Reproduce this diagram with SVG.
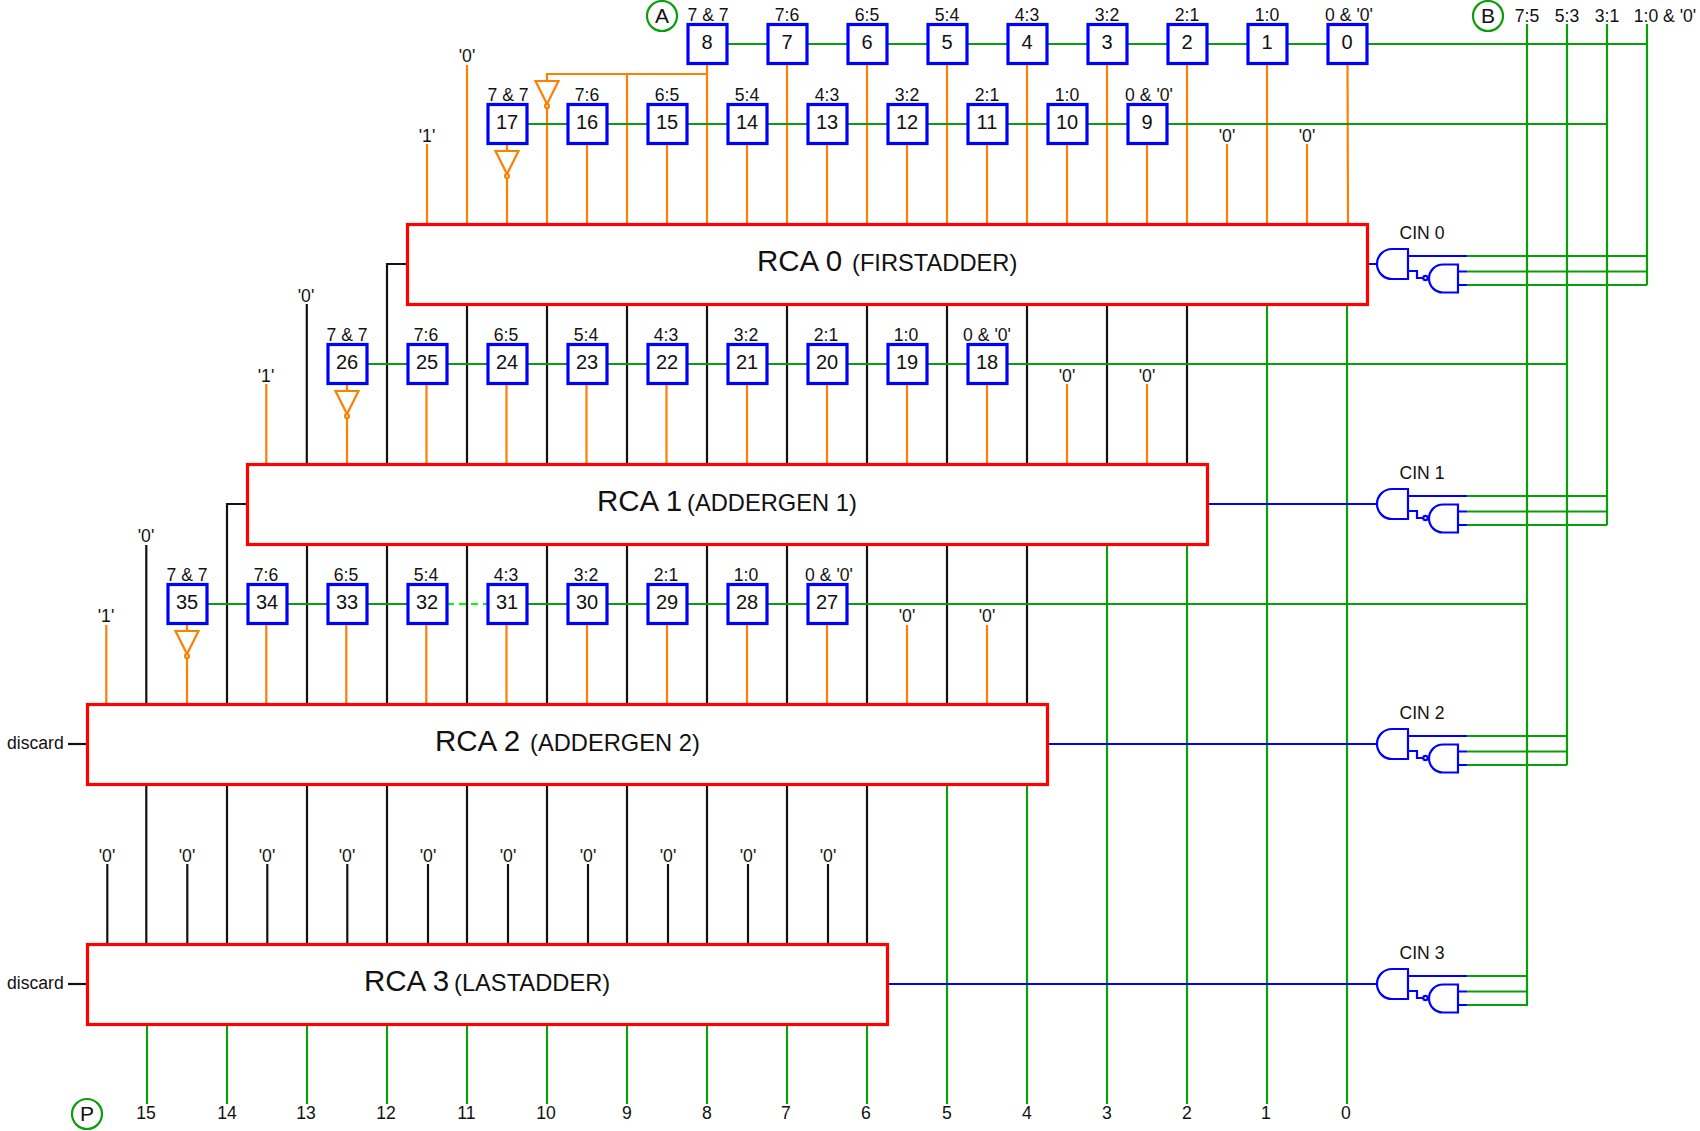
<svg xmlns="http://www.w3.org/2000/svg" xmlns:xlink="http://www.w3.org/1999/xlink" width="1700" height="1131" viewBox="0 0 1700 1131">
<style>
text{font-family:"Liberation Sans",Arial,sans-serif;fill:#111;text-anchor:middle;font-size:17.6px}
.n{font-size:20px}
.big{font-size:29.500px;text-anchor:start}
.sub{font-size:23.700px;text-anchor:start}
.l{text-anchor:start}
.c{font-size:21px}
line,path,circle,rect{fill:none;stroke-width:2.2}
.o{stroke:#ff8000}.k{stroke:#111}.g{stroke:#0a9e0a}.b{stroke:#0000ff}
.d{stroke:#00ff00;stroke-dasharray:7 5}
.box{fill:#fff;stroke:#0000ff;stroke-width:3.2}
.rca{fill:#fff;stroke:#ff0000;stroke-width:3.2}
.ring{stroke:#0a9e0a;fill:#fff}
.inv{stroke:#ff8000;fill:#fff}
</style>
<defs>
<g id="gate">
<path class="b" d="M1408 249H1392A15 15 0 0 0 1392 279H1408Z"/>
<path class="b" d="M1458 264.500H1443A14 14 0 0 0 1443 292.500H1458Z"/>
<path class="b" d="M1368 264H1377M1408 256H1467M1408 271H1417V278H1423M1458 271.500H1467M1458 285H1467"/>
<circle class="b" cx="1425.500" cy="278" r="2.200"/>
</g>
<g id="inverter">
<path class="inv" d="M-11.500 0H11.500L0 23Z"/>
<circle class="inv" cx="0" cy="25" r="2"/>
</g>
</defs>

<g id="connectors">
<g id="orange-wires" class="o">
<line class="o" x1="427" y1="144" x2="427" y2="224"/>
<line class="o" x1="467" y1="65" x2="467" y2="224"/>
<line class="o" x1="507" y1="145" x2="507" y2="224"/>
<path class="o" d="M547 224V74H707"/>
<line class="o" x1="587" y1="145" x2="587" y2="224"/>
<line class="o" x1="627" y1="74" x2="627" y2="224"/>
<line class="o" x1="667" y1="145" x2="667" y2="224"/>
<line class="o" x1="707" y1="64" x2="707" y2="224"/>
<line class="o" x1="747" y1="145" x2="747" y2="224"/>
<line class="o" x1="787" y1="64" x2="787" y2="224"/>
<line class="o" x1="827" y1="145" x2="827" y2="224"/>
<line class="o" x1="867" y1="64" x2="867" y2="224"/>
<line class="o" x1="907" y1="145" x2="907" y2="224"/>
<line class="o" x1="947" y1="64" x2="947" y2="224"/>
<line class="o" x1="987" y1="145" x2="987" y2="224"/>
<line class="o" x1="1027" y1="64" x2="1027" y2="224"/>
<line class="o" x1="1067" y1="145" x2="1067" y2="224"/>
<line class="o" x1="1107" y1="64" x2="1107" y2="224"/>
<line class="o" x1="1147" y1="145" x2="1147" y2="224"/>
<line class="o" x1="1187" y1="64" x2="1187" y2="224"/>
<line class="o" x1="1227" y1="144" x2="1227" y2="224"/>
<line class="o" x1="1267" y1="64" x2="1267" y2="224"/>
<line class="o" x1="1307" y1="144" x2="1307" y2="224"/>
<line class="o" x1="1347.500" y1="64" x2="1348" y2="224"/>

<line class="o" x1="266.300" y1="384" x2="266.300" y2="464"/>
<line class="o" x1="347" y1="385" x2="347" y2="464"/>
<line class="o" x1="426.500" y1="385" x2="426.500" y2="464"/>
<line class="o" x1="506.500" y1="385" x2="506.500" y2="464"/>
<line class="o" x1="586.500" y1="385" x2="586.500" y2="464"/>
<line class="o" x1="666.500" y1="385" x2="666.500" y2="464"/>
<line class="o" x1="747" y1="385" x2="747" y2="464"/>
<line class="o" x1="827" y1="385" x2="827" y2="464"/>
<line class="o" x1="907" y1="385" x2="907" y2="464"/>
<line class="o" x1="987" y1="385" x2="987" y2="464"/>
<line class="o" x1="1067" y1="384" x2="1067" y2="464"/>
<line class="o" x1="1147" y1="384" x2="1147" y2="464"/>

<line class="o" x1="106.300" y1="625" x2="106.300" y2="704"/>
<line class="o" x1="187" y1="625" x2="187" y2="704"/>
<line class="o" x1="266.300" y1="625" x2="266.300" y2="704"/>
<line class="o" x1="346.300" y1="625" x2="346.300" y2="704"/>
<line class="o" x1="426.300" y1="625" x2="426.300" y2="704"/>
<line class="o" x1="506.500" y1="625" x2="506.500" y2="704"/>
<line class="o" x1="587" y1="625" x2="587" y2="704"/>
<line class="o" x1="667" y1="625" x2="667" y2="704"/>
<line class="o" x1="747" y1="625" x2="747" y2="704"/>
<line class="o" x1="827" y1="625" x2="827" y2="704"/>
<line class="o" x1="907" y1="625" x2="907" y2="704"/>
<line class="o" x1="987" y1="625" x2="987" y2="704"/>
</g>

<g id="black-wires">
<path class="k" d="M407 264H387V464"/>
<line class="k" x1="467" y1="304" x2="467" y2="464"/>
<line class="k" x1="547" y1="304" x2="547" y2="464"/>
<line class="k" x1="627" y1="304" x2="627" y2="464"/>
<line class="k" x1="707" y1="304" x2="707" y2="464"/>
<line class="k" x1="787" y1="304" x2="787" y2="464"/>
<line class="k" x1="867" y1="304" x2="867" y2="464"/>
<line class="k" x1="947" y1="304" x2="947" y2="464"/>
<line class="k" x1="1027" y1="304" x2="1027" y2="464"/>
<line class="k" x1="1107" y1="304" x2="1107" y2="464"/>
<line class="k" x1="1187" y1="304" x2="1187" y2="464"/>
<line class="k" x1="306.800" y1="304" x2="306.800" y2="464"/>

<path class="k" d="M247 504H227V704"/>
<line class="k" x1="146.300" y1="545" x2="146.300" y2="704"/>
<line class="k" x1="307" y1="544" x2="307" y2="704"/>
<line class="k" x1="387" y1="544" x2="387" y2="704"/>
<line class="k" x1="467" y1="544" x2="467" y2="704"/>
<line class="k" x1="547" y1="544" x2="547" y2="704"/>
<line class="k" x1="627" y1="544" x2="627" y2="704"/>
<line class="k" x1="707" y1="544" x2="707" y2="704"/>
<line class="k" x1="787" y1="544" x2="787" y2="704"/>
<line class="k" x1="867" y1="544" x2="867" y2="704"/>
<line class="k" x1="947" y1="544" x2="947" y2="704"/>
<line class="k" x1="1027" y1="544" x2="1027" y2="704"/>

<line class="k" x1="146.300" y1="784" x2="146.300" y2="944"/>
<line class="k" x1="227" y1="784" x2="227" y2="944"/>
<line class="k" x1="307" y1="784" x2="307" y2="944"/>
<line class="k" x1="387" y1="784" x2="387" y2="944"/>
<line class="k" x1="467" y1="784" x2="467" y2="944"/>
<line class="k" x1="547" y1="784" x2="547" y2="944"/>
<line class="k" x1="627" y1="784" x2="627" y2="944"/>
<line class="k" x1="707" y1="784" x2="707" y2="944"/>
<line class="k" x1="787" y1="784" x2="787" y2="944"/>
<line class="k" x1="867" y1="784" x2="867" y2="944"/>

<line class="k" x1="107.300" y1="864" x2="107.300" y2="944"/>
<line class="k" x1="187.300" y1="864" x2="187.300" y2="944"/>
<line class="k" x1="267.300" y1="864" x2="267.300" y2="944"/>
<line class="k" x1="347.300" y1="864" x2="347.300" y2="944"/>
<line class="k" x1="428" y1="864" x2="428" y2="944"/>
<line class="k" x1="508" y1="864" x2="508" y2="944"/>
<line class="k" x1="588" y1="864" x2="588" y2="944"/>
<line class="k" x1="668" y1="864" x2="668" y2="944"/>
<line class="k" x1="748" y1="864" x2="748" y2="944"/>
<line class="k" x1="828" y1="864" x2="828" y2="944"/>

<line class="k" x1="68" y1="744" x2="87" y2="744"/>
<line class="k" x1="68" y1="984" x2="87" y2="984"/>
</g>

<g id="green-wires">
<line class="g" x1="707" y1="44" x2="1647" y2="44"/>
<line class="g" x1="507" y1="124" x2="1607" y2="124"/>
<line class="g" x1="347" y1="364" x2="1567" y2="364"/>
<line class="g" x1="187" y1="604" x2="427" y2="604"/>
<line class="d" x1="447" y1="604" x2="488" y2="604"/>
<line class="g" x1="507" y1="604" x2="1527" y2="604"/>
<line class="g" x1="1527" y1="24" x2="1527" y2="1006"/>
<line class="g" x1="1567" y1="24" x2="1567" y2="765"/>
<line class="g" x1="1607" y1="24" x2="1607" y2="525"/>
<line class="g" x1="1647" y1="24" x2="1647" y2="285"/>
<path class="g" d="M1467 256H1647M1467 271.500H1647M1467 285H1647"/>
<path class="g" d="M1467 496H1607M1467 511.500H1607M1467 525H1607"/>
<path class="g" d="M1467 736H1567M1467 751.500H1567M1467 765H1567"/>
<path class="g" d="M1467 976H1527M1467 991.500H1527M1467 1005H1527"/>
<line class="g" x1="147" y1="1024" x2="147" y2="1104"/>
<line class="g" x1="227" y1="1024" x2="227" y2="1104"/>
<line class="g" x1="307" y1="1024" x2="307" y2="1104"/>
<line class="g" x1="387" y1="1024" x2="387" y2="1104"/>
<line class="g" x1="467" y1="1024" x2="467" y2="1104"/>
<line class="g" x1="547" y1="1024" x2="547" y2="1104"/>
<line class="g" x1="627" y1="1024" x2="627" y2="1104"/>
<line class="g" x1="707" y1="1024" x2="707" y2="1104"/>
<line class="g" x1="787" y1="1024" x2="787" y2="1104"/>
<line class="g" x1="867" y1="1024" x2="867" y2="1104"/>
<line class="g" x1="947" y1="784" x2="947" y2="1104"/>
<line class="g" x1="1027" y1="784" x2="1027" y2="1104"/>
<line class="g" x1="1107" y1="544" x2="1107" y2="1104"/>
<line class="g" x1="1187" y1="544" x2="1187" y2="1104"/>
<line class="g" x1="1267" y1="304" x2="1267" y2="1104"/>
<line class="g" x1="1347" y1="304" x2="1347" y2="1104"/>
</g>

<g id="blue-wires">
<line class="b" x1="1208" y1="504" x2="1377" y2="504"/>
<line class="b" x1="1047" y1="744" x2="1377" y2="744"/>
<line class="b" x1="888" y1="984" x2="1377" y2="984"/>
</g>
</g>

<g id="inv-a"><use href="#inverter" x="547" y="81"/></g>
<g id="inv-b"><use href="#inverter" x="507" y="151"/></g>
<g id="inv-c"><use href="#inverter" x="347" y="391"/></g>
<g id="inv-d"><use href="#inverter" x="187" y="631"/></g>

<g id="gates">
<use href="#gate"/>
<use href="#gate" y="240"/>
<use href="#gate" y="480"/>
<use href="#gate" y="720"/>
<text x="1422" y="239">CIN 0</text>
<text x="1422" y="479">CIN 1</text>
<text x="1422" y="719">CIN 2</text>
<text x="1422" y="959">CIN 3</text>
</g>

<g id="rca0"><rect class="rca" x="407.500" y="224.500" width="960" height="80"/><text class="big" x="757" y="270.500">RCA 0</text><text class="sub" x="852" y="270.700">(FIRSTADDER)</text></g>
<g id="rca1"><rect class="rca" x="247.500" y="464.500" width="960" height="80"/><text class="big" x="597" y="510.500">RCA 1</text><text class="sub" x="687" y="510.700">(ADDERGEN 1)</text></g>
<g id="rca2"><rect class="rca" x="87.500" y="704.500" width="960" height="80"/><text class="big" x="435" y="750.500">RCA 2</text><text class="sub" x="530" y="750.700">(ADDERGEN 2)</text></g>
<g id="rca3"><rect class="rca" x="87.500" y="944.500" width="800" height="80"/><text class="big" x="364" y="990.500">RCA 3</text><text class="sub" x="454" y="990.700">(LASTADDER)</text></g>

<g id="b8"><rect class="box" x="688" y="24.500" width="39" height="39"/><text class="n" x="707" y="49.300">8</text><text x="708" y="21">7 &amp; 7</text></g>
<g id="b7"><rect class="box" x="768" y="24.500" width="39" height="39"/><text class="n" x="787" y="49.300">7</text><text x="787" y="21">7:6</text></g>
<g id="b6"><rect class="box" x="848" y="24.500" width="39" height="39"/><text class="n" x="867" y="49.300">6</text><text x="867" y="21">6:5</text></g>
<g id="b5"><rect class="box" x="928" y="24.500" width="39" height="39"/><text class="n" x="947" y="49.300">5</text><text x="947" y="21">5:4</text></g>
<g id="b4"><rect class="box" x="1008" y="24.500" width="39" height="39"/><text class="n" x="1027" y="49.300">4</text><text x="1027" y="21">4:3</text></g>
<g id="b3"><rect class="box" x="1088" y="24.500" width="39" height="39"/><text class="n" x="1107" y="49.300">3</text><text x="1107" y="21">3:2</text></g>
<g id="b2"><rect class="box" x="1168" y="24.500" width="39" height="39"/><text class="n" x="1187" y="49.300">2</text><text x="1187" y="21">2:1</text></g>
<g id="b1"><rect class="box" x="1248" y="24.500" width="39" height="39"/><text class="n" x="1267" y="49.300">1</text><text x="1267" y="21">1:0</text></g>
<g id="b0"><rect class="box" x="1328" y="24.500" width="39" height="39"/><text class="n" x="1347" y="49.300">0</text><text x="1349" y="21">0 &amp; '0'</text></g>

<g id="b17"><rect class="box" x="488" y="104.500" width="39" height="39"/><text class="n" x="507" y="129.300">17</text><text x="508" y="101">7 &amp; 7</text></g>
<g id="b16"><rect class="box" x="568" y="104.500" width="39" height="39"/><text class="n" x="587" y="129.300">16</text><text x="587" y="101">7:6</text></g>
<g id="b15"><rect class="box" x="648" y="104.500" width="39" height="39"/><text class="n" x="667" y="129.300">15</text><text x="667" y="101">6:5</text></g>
<g id="b14"><rect class="box" x="728" y="104.500" width="39" height="39"/><text class="n" x="747" y="129.300">14</text><text x="747" y="101">5:4</text></g>
<g id="b13"><rect class="box" x="808" y="104.500" width="39" height="39"/><text class="n" x="827" y="129.300">13</text><text x="827" y="101">4:3</text></g>
<g id="b12"><rect class="box" x="888" y="104.500" width="39" height="39"/><text class="n" x="907" y="129.300">12</text><text x="907" y="101">3:2</text></g>
<g id="b11"><rect class="box" x="968" y="104.500" width="39" height="39"/><text class="n" x="987" y="129.300">11</text><text x="987" y="101">2:1</text></g>
<g id="b10"><rect class="box" x="1048" y="104.500" width="39" height="39"/><text class="n" x="1067" y="129.300">10</text><text x="1067" y="101">1:0</text></g>
<g id="b9"><rect class="box" x="1128" y="104.500" width="39" height="39"/><text class="n" x="1147" y="129.300">9</text><text x="1149" y="101">0 &amp; '0'</text></g>

<g id="b26"><rect class="box" x="328" y="344.500" width="39" height="39"/><text class="n" x="347" y="369.300">26</text><text x="347" y="341">7 &amp; 7</text></g>
<g id="b25"><rect class="box" x="408" y="344.500" width="39" height="39"/><text class="n" x="427" y="369.300">25</text><text x="426" y="341">7:6</text></g>
<g id="b24"><rect class="box" x="488" y="344.500" width="39" height="39"/><text class="n" x="507" y="369.300">24</text><text x="506" y="341">6:5</text></g>
<g id="b23"><rect class="box" x="568" y="344.500" width="39" height="39"/><text class="n" x="587" y="369.300">23</text><text x="586" y="341">5:4</text></g>
<g id="b22"><rect class="box" x="648" y="344.500" width="39" height="39"/><text class="n" x="667" y="369.300">22</text><text x="666" y="341">4:3</text></g>
<g id="b21"><rect class="box" x="728" y="344.500" width="39" height="39"/><text class="n" x="747" y="369.300">21</text><text x="746" y="341">3:2</text></g>
<g id="b20"><rect class="box" x="808" y="344.500" width="39" height="39"/><text class="n" x="827" y="369.300">20</text><text x="826" y="341">2:1</text></g>
<g id="b19"><rect class="box" x="888" y="344.500" width="39" height="39"/><text class="n" x="907" y="369.300">19</text><text x="906" y="341">1:0</text></g>
<g id="b18"><rect class="box" x="968" y="344.500" width="39" height="39"/><text class="n" x="987" y="369.300">18</text><text x="987" y="341">0 &amp; '0'</text></g>

<g id="b35"><rect class="box" x="168" y="584.500" width="39" height="39"/><text class="n" x="187" y="609.300">35</text><text x="187" y="581">7 &amp; 7</text></g>
<g id="b34"><rect class="box" x="248" y="584.500" width="39" height="39"/><text class="n" x="267" y="609.300">34</text><text x="266" y="581">7:6</text></g>
<g id="b33"><rect class="box" x="328" y="584.500" width="39" height="39"/><text class="n" x="347" y="609.300">33</text><text x="346" y="581">6:5</text></g>
<g id="b32"><rect class="box" x="408" y="584.500" width="39" height="39"/><text class="n" x="427" y="609.300">32</text><text x="426" y="581">5:4</text></g>
<g id="b31"><rect class="box" x="488" y="584.500" width="39" height="39"/><text class="n" x="507" y="609.300">31</text><text x="506" y="581">4:3</text></g>
<g id="b30"><rect class="box" x="568" y="584.500" width="39" height="39"/><text class="n" x="587" y="609.300">30</text><text x="586" y="581">3:2</text></g>
<g id="b29"><rect class="box" x="648" y="584.500" width="39" height="39"/><text class="n" x="667" y="609.300">29</text><text x="666" y="581">2:1</text></g>
<g id="b28"><rect class="box" x="728" y="584.500" width="39" height="39"/><text class="n" x="747" y="609.300">28</text><text x="746" y="581">1:0</text></g>
<g id="b27"><rect class="box" x="808" y="584.500" width="39" height="39"/><text class="n" x="827" y="609.300">27</text><text x="829" y="581">0 &amp; '0'</text></g>

<g id="constants">
<text x="427" y="141.500">'1'</text><text x="467" y="62">'0'</text><text x="1227" y="141.500">'0'</text><text x="1307" y="141.500">'0'</text>
<text x="266" y="382">'1'</text><text x="306" y="302">'0'</text><text x="1067" y="382">'0'</text><text x="1147" y="382">'0'</text>
<text x="106" y="622">'1'</text><text x="146" y="542">'0'</text><text x="907" y="622">'0'</text><text x="987" y="622">'0'</text>
<text x="107" y="862">'0'</text><text x="187" y="862">'0'</text><text x="267" y="862">'0'</text><text x="347" y="862">'0'</text><text x="428" y="862">'0'</text><text x="508" y="862">'0'</text><text x="588" y="862">'0'</text><text x="668" y="862">'0'</text><text x="748" y="862">'0'</text><text x="828" y="862">'0'</text>
<text class="l" x="7" y="749">discard</text><text class="l" x="7" y="989">discard</text>
</g>

<g id="bus-a"><circle class="ring" cx="662" cy="16" r="15"/><text class="c" x="662" y="23">A</text></g>
<g id="bus-b"><circle class="ring" cx="1488" cy="16" r="15"/><text class="c" x="1488" y="23">B</text>
<text x="1527" y="22">7:5</text><text x="1567" y="22">5:3</text><text x="1607" y="22">3:1</text><text x="1665" y="22">1:0 &amp; '0'</text></g>
<g id="bus-p"><circle class="ring" cx="87" cy="1114" r="15"/><text class="c" x="87" y="1121">P</text>
<text x="146" y="1119">15</text><text x="227" y="1119">14</text><text x="306" y="1119">13</text><text x="386" y="1119">12</text><text x="466.500" y="1119">11</text><text x="546" y="1119">10</text><text x="627" y="1119">9</text><text x="707" y="1119">8</text><text x="786" y="1119">7</text><text x="866" y="1119">6</text><text x="947" y="1119">5</text><text x="1027" y="1119">4</text><text x="1107" y="1119">3</text><text x="1187" y="1119">2</text><text x="1266" y="1119">1</text><text x="1346" y="1119">0</text></g>
</svg>
